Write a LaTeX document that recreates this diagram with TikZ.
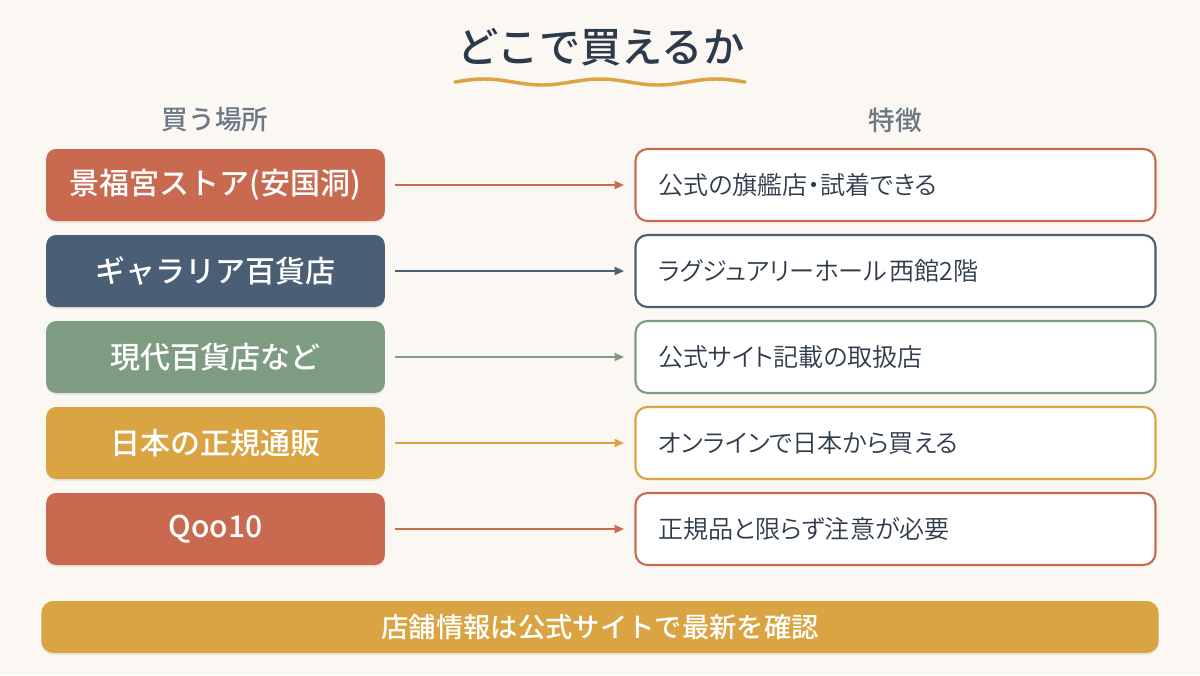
\documentclass[tikz,border=0pt]{standalone}
\usepackage{fontspec}
\setmainfont{Noto Sans CJK JP}
\newfontfamily\medfont{Noto Sans CJK JP Medium}
\newfontfamily\paltfont{Noto Sans CJK JP DemiLight}[RawFeature=+palt]
\usetikzlibrary{arrows.meta,shadows}
\definecolor{bg}{HTML}{FBF7F3}
\definecolor{terra}{HTML}{C96A50}
\definecolor{navy}{HTML}{4A5E75}
\definecolor{sage}{HTML}{7D9C82}
\definecolor{gold}{HTML}{D9A441}
\definecolor{titlec}{HTML}{2C3A4C}
\definecolor{headc}{HTML}{6B7785}
\definecolor{textc}{HTML}{2F3B4A}
\tikzset{
  leftbox/.style={rounded corners=7.5pt, minimum width=254pt, minimum height=54pt, inner sep=0pt,
    text=white, font=\fontsize{22.5}{26}\medfont, draw=none,
    drop shadow={shadow xshift=0pt, shadow yshift=-1.5pt, opacity=0.12}},
  rightbox/.style={rounded corners=9pt, minimum width=390pt, minimum height=54pt, inner sep=0pt,
    fill=white, line width=1.6pt},
  rtext/.style={anchor=west, text=textc, font=\fontsize{18.8}{22}\paltfont, inner sep=0pt},
  conn/.style={line width=1.3pt, -{Triangle[length=7pt,width=6pt]}},
  head/.style={text=headc, font=\fontsize{20}{24}\medfont},
}
\begin{document}
\begin{tikzpicture}[x=0.75pt,y=-0.75pt]
\fill[bg] (0,0) rectangle (1200,675);
\useasboundingbox (0,0) rectangle (1200,675);
\node[text=titlec, font=\fontsize{31}{36}\medfont] (title) at (601,47) {どこで買えるか};
\draw[gold, line width=2.6pt, line cap=round, domain=455:745, samples=80, smooth]
  plot (\x, {82 - 3*sin((\x-455)/290*2.5*360)});
\node[head] (h1) at (215,120) {買う場所};
\node[head] (h2) at (895,120) {特徴};
\foreach \i/\c/\l/\r in {
  1/terra/{景福宮ストア(安国洞)}/{公式の旗艦店・試着できる},
  2/navy/{ギャラリア百貨店}/{ラグジュアリーホール\hspace{0.1em}西館2階},
  3/sage/{現代百貨店など}/{公式サイト記載の取扱店},
  4/gold/{日本の正規通販}/{オンラインで日本から買える},
  5/terra/{Qoo10}/{正規品と限らず注意が必要}} {
  \pgfmathsetmacro{\yy}{185+86*(\i-1)}
  \node[leftbox, fill=\c] (L\i) at (215.5,\yy) {\l};
  \node[rightbox, draw=\c] (R\i) at (895.5,\yy) {};
  \node[rtext] (T\i) at (658,\yy) {\r};
  \coordinate (A\i) at (395,\yy);
  \coordinate (B\i) at (624,\yy);
  \draw[conn, draw=\c, fill=\c] (A\i) -- (B\i);
}
\node[fill=gold, rounded corners=9pt, minimum width=838pt, minimum height=39pt, inner sep=0pt,
  text=white, font=\fontsize{20.5}{24}\medfont,
  drop shadow={shadow xshift=0pt, shadow yshift=-1.5pt, opacity=0.12}] (foot) at (600,627) {店舗情報は公式サイトで最新を確認};
\end{tikzpicture}
\end{document}
